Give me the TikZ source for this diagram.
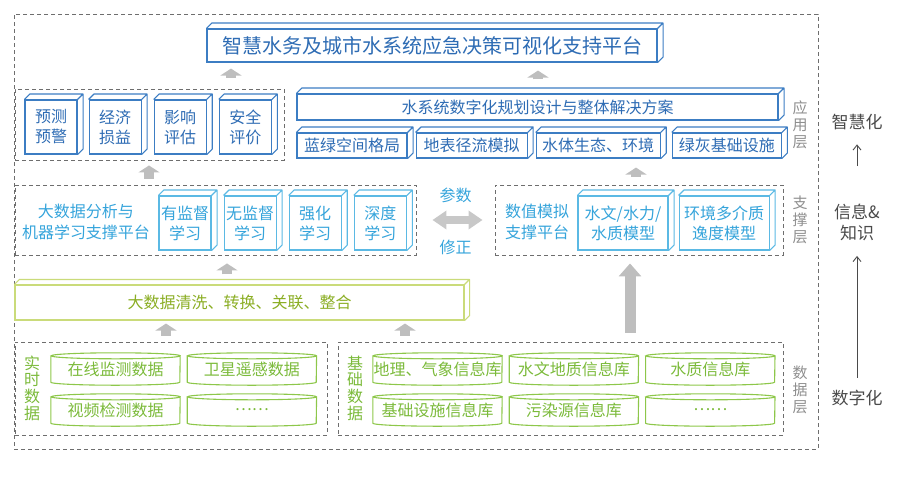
\documentclass[tikz,border=0pt]{standalone}
\usepackage{fontspec}
\setmainfont{Noto Sans CJK SC}
\usetikzlibrary{positioning, arrows.meta, calc, fit}
\definecolor{Azure}{HTML}{3C7DC3}
\definecolor{AzureText}{HTML}{2E6CB4}
\definecolor{Sky}{HTML}{5BB9E4}
\definecolor{SkyText}{HTML}{35A4DB}
\definecolor{Lime}{HTML}{CADB7A}
\definecolor{Olive}{HTML}{8BAE24}
\definecolor{Leaf}{HTML}{8DC74A}
\definecolor{LeafText}{HTML}{7BBA3A}
\definecolor{Slate}{HTML}{6E6E6E}
\definecolor{Ash}{HTML}{8E8E8E}
\definecolor{Mist}{HTML}{BEBEBE}
\definecolor{Graphite}{HTML}{4A4A4A}

\begin{document}
\begin{tikzpicture}[x=1pt, y=-1pt,
    every node/.style={font=\fontsize{16pt}{20pt}\selectfont},
    cube/.style={draw=Azure, fill=white, line width=1.1pt, inner sep=0pt, align=center, text=AzureText},
    smallcube/.style={cube, minimum width=52pt, minimum height=54pt},
    mlcube/.style={cube, draw=Sky, text=SkyText, minimum height=54pt},
    depth/.style={draw=#1, line width=1.1pt, line join=round},
    group/.style={draw=Slate, line width=0.9pt, dash pattern=on 4pt off 3pt, inner sep=0pt},
    dbcyl/.style={minimum width=129pt, minimum height=26pt, inner sep=0pt, text=LeafText},
    cylline/.style={draw=Leaf, line width=1.1pt},
    layer/.style={text=Ash, align=center, font=\fontsize{15pt}{17pt}\selectfont},
    barrow/.style={draw=Mist, line width=10pt, -{Triangle[length=7pt, width=21pt]}},
    tarrow/.style={draw=Graphite, line width=0.9pt, -{Straight Barb[length=5pt, width=8pt]}}
]
\useasboundingbox (0,0) rectangle (897,488);

% outer frame
\node[group, fit={(14,14) (818,449)}] (frame) {};

% top platform
\node[cube, minimum width=450pt, minimum height=33pt, font=\fontsize{20pt}{24pt}\selectfont] (plat) at (432,45.5) {智慧水务及城市水系统应急决策可视化支持平台};

% application layer
\node[group, fit={(15,89) (284,160)}] (appL) {};
\node[smallcube] (a1) at (51,127) {预测\\预警};
\node[smallcube, right=11pt of a1] (a2) {经济\\损益};
\node[smallcube, right=12pt of a2] (a3) {影响\\评估};
\node[smallcube, right=12pt of a3] (a4) {安全\\评价};

\node[cube, minimum width=481pt, minimum height=26pt] (plan) at (537.5,107) {水系统数字化规划设计与整体解决方案};
\node[cube, minimum width=110pt, minimum height=25pt] (w1) at (352,145.5) {蓝绿空间格局};
\node[cube, minimum width=111pt, minimum height=25pt, right=8pt of w1] (w2) {地表径流模拟};
\node[cube, minimum width=124pt, minimum height=25pt, right=8pt of w2] (w3) {水体生态、环境};
\node[cube, minimum width=109pt, minimum height=25pt, right=11pt of w3] (w4) {绿灰基础设施};
\node[layer] (lapp) at (800,125) {应\\用\\层};

% support layer
\node[group, fit={(15,185) (416,255)}] (mlL) {};
\node[text=SkyText, align=center, font=\fontsize{16pt}{21pt}\selectfont] (mltxt) at (86,222) {大数据分析与\\机器学习支撑平台};
\node[mlcube, minimum width=52pt] (m1) at (185,223) {有监督\\学习};
\node[mlcube, minimum width=52pt, right=12pt of m1] (m2) {无监督\\学习};
\node[mlcube, minimum width=52pt, right=12pt of m2] (m3) {强化\\学习};
\node[mlcube, minimum width=52pt, right=12pt of m3] (m4) {深度\\学习};

\node[group, fit={(495,185) (783,255)}] (numR) {};
\node[text=SkyText, align=center, font=\fontsize{16pt}{21pt}\selectfont] (numtxt) at (537,222) {数值模拟\\支撑平台};
\node[mlcube, minimum width=90pt] (md1) at (623,223) {水文/水力/\\水质模型};
\node[mlcube, minimum width=90pt, right=10pt of md1] (md2) {环境多介质\\逸度模型};
\node[layer] (lsup) at (800,220) {支\\撑\\层};

% data cleaning band
\node[cube, draw=Lime, text=Olive, minimum width=449pt, minimum height=35pt] (band) at (239.5,302.5) {大数据清洗、转换、关联、整合};

% data layer
\node[group, fit={(15,342) (327,435)}] (dataL) {};
\node[text=LeafText, align=center, font=\fontsize{16pt}{16.7pt}\selectfont] (rt) at (32,388) {实\\时\\数\\据};
\node[dbcyl] (c1) at (115.5,369) {在线监测数据};
\node[dbcyl, right=7pt of c1] (c2) {卫星遥感数据};
\node[dbcyl] (c3) at (115.5,410) {视频检测数据};
\node[dbcyl, right=7pt of c3] (c4) {……};

\node[group, fit={(338,342) (783,435)}] (dataR) {};
\node[text=LeafText, align=center, font=\fontsize{16pt}{16.7pt}\selectfont] (jc) at (355,388) {基\\础\\数\\据};
\node[dbcyl] (r1) at (437.5,369) {地理、气象信息库};
\node[dbcyl, right=7pt of r1] (r2) {水文地质信息库};
\node[dbcyl, right=7pt of r2] (r3) {水质信息库};
\node[dbcyl] (r4) at (437.5,410) {基础设施信息库};
\node[dbcyl, right=7pt of r4] (r5) {污染源信息库};
\node[dbcyl, right=7pt of r5] (r6) {……};
\node[layer] (ldat) at (800,390) {数\\据\\层};

% right column
\node[text=Graphite, font=\fontsize{17pt}{21pt}\selectfont] (zhh) at (857,122) {智慧化};
\node[text=Graphite, align=center, font=\fontsize{17pt}{21pt}\selectfont] (xx) at (857,222) {信息\&\\知识};
\node[text=Graphite, font=\fontsize{17pt}{21pt}\selectfont] (szh) at (857,398) {数字化};

% box depth
\foreach \n in {plat,a1,a2,a3,a4,plan,w1,w2,w3,w4}
  \draw[depth=Azure] (\n.north west) -- ++(5.5,-5.5) -| ($(\n.south east)+(5.5,-5.5)$) -- (\n.south east) (\n.north east) -- ++(5.5,-5.5);
\foreach \n in {m1,m2,m3,m4,md1,md2}
  \draw[depth=Sky] (\n.north west) -- ++(5.5,-5.5) -| ($(\n.south east)+(5.5,-5.5)$) -- (\n.south east) (\n.north east) -- ++(5.5,-5.5);
\draw[depth=Lime] (band.north west) -- ++(5,-5) -| ($(band.south east)+(5,-5)$) -- (band.south east) (band.north east) -- ++(5,-5);

% cylinders
\foreach \n in {c1,c2,c3,c4,r1,r2,r3,r4,r5,r6}
  \draw[cylline] (\n.north west) -- (\n.south west) arc[start angle=180, end angle=360, x radius=64.5pt, y radius=3pt] -- (\n.north east) arc[start angle=0, end angle=360, x radius=64.5pt, y radius=3pt];

% arrows
\coordinate (ax1) at (231,0);
\coordinate (ax2) at (538,0);
\coordinate (ax3) at (149,0);
\coordinate (ax4) at (636,0);
\coordinate (ax5) at (227,0);
\coordinate (ax6) at (166,0);
\coordinate (ax7) at (405,0);
\coordinate (ax8) at (630,0);
\draw[barrow, shorten <=11pt, shorten >=6pt] (ax1 |- appL.north) -- (ax1 |- plat.south);
\draw[barrow, shorten <=14pt, shorten >=8pt] (ax2 |- plan.north) -- (ax2 |- plat.south);
\draw[barrow, shorten <=6pt, shorten >=5pt] (ax3 |- mlL.north) -- (ax3 |- appL.south);
\draw[barrow, shorten <=8pt, shorten >=9pt] (ax4 |- numR.north) -- (ax4 |- w3.south);
\draw[barrow, shorten <=10pt, shorten >=8pt] (ax5 |- band.north) -- (ax5 |- mlL.south);
\draw[barrow, shorten <=6pt, shorten >=3pt] (ax6 |- dataL.north) -- (ax6 |- band.south);
\draw[barrow, shorten <=6pt, shorten >=3pt] (ax7 |- dataR.north) -- (ax7 |- band.south);
\draw[barrow, line width=11pt, -{Triangle[length=13pt, width=22pt]}, shorten <=9pt, shorten >=8pt] (ax8 |- dataR.north) -- (ax8 |- numR.south);
\draw[draw=Mist!85, line width=8pt, {Triangle[length=14pt, width=18pt]}-{Triangle[length=14pt, width=18pt]}, shorten <=16pt, shorten >=12pt]
  (mlL.east) -- node[above=10pt, text=SkyText] (cs) {参数} node[below=13pt, text=SkyText] (xz) {修正} (numR.west);

\draw[tarrow, shorten <=34pt, shorten >=11pt] (xx) -- (zhh);
\draw[tarrow, shorten <=9pt, shorten >=12pt] (szh) -- (xx);

\end{tikzpicture}
\end{document}
